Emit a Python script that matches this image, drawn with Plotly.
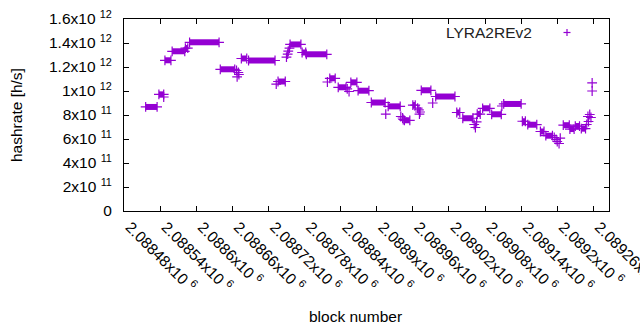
import plotly.graph_objects as go

# ---- data: runs of blocks with (nearly) constant hashrate ----
run_start = [2088516, 2088538, 2088548, 2088560, 2088582, 2088589, 2088640, 2088675,
             2088687, 2088736, 2088756, 2088776, 2088783, 2088822, 2088836, 2088857,
             2088869, 2088891, 2088919, 2088946, 2088960, 2088974, 2088998, 2089033,
             2089043, 2089067, 2089076, 2089091, 2089111, 2089142, 2089151, 2089172,
             2089181, 2089210, 2089221, 2089230, 2089240]
run_end = [2088535, 2088546, 2088558, 2088581, 2088586, 2088638, 2088664, 2088684,
           2088731, 2088748, 2088774, 2088782, 2088817, 2088831, 2088849, 2088867,
           2088887, 2088914, 2088939, 2088955, 2088964, 2088990, 2089030, 2089038,
           2089060, 2089072, 2089088, 2089107, 2089140, 2089147, 2089166, 2089178,
           2089192, 2089220, 2089228, 2089237, 2089247]
run_rate = [8.67e11, 9.72e11, 1.256e12, 1.331e12, 1.358e12, 1.406e12, 1.181e12, 1.271e12,
            1.254e12, 1.079e12, 1.388e12, 1.321e12, 1.306e12, 1.106e12, 1.031e12, 1.072e12,
            1.0025e12, 9.04e11, 8.72e11, 7.56e11, 8.83e11, 1.006e12, 9.54e11, 8.21e11,
            7.73e11, 8.08e11, 8.56e11, 8.06e11, 8.92e11, 7.48e11, 7.19e11, 6.625e11,
            6.275e11, 7.15e11, 6.83e11, 7.08e11, 6.86e11]

# ---- data: isolated blocks ----
pt_block = [2088546, 2088667, 2088670, 2088671, 2088668, 2088733, 2088750, 2088752,
            2088753, 2088755, 2088818, 2088851, 2088854, 2088915, 2088940, 2088943,
            2088944, 2088968, 2088970, 2088972, 2088971, 2088993, 2089062, 2089064,
            2089066, 2089108, 2089195, 2089198, 2089200, 2089203, 2089205, 2089249,
            2089252, 2089251, 2089254, 2089256, 2089258, 2089258]
pt_rate = [9.5e11, 1.171e12, 1.154e12, 1.1375e12, 1.117e12, 1.058e12, 1.283e12, 1.308e12,
           1.333e12, 1.358e12, 1.075e12, 1.017e12, 9.96e11, 8.08e11, 7.875e11, 7.75e11,
           7.625e11, 8.58e11, 8.42e11, 8.25e11, 8.08e11, 9.0e11, 7.21e11, 6.96e11,
           7.42e11, 8.75e11, 6.125e11, 5.96e11, 5.79e11, 5.625e11, 6.08e11, 7.21e11,
           7.46e11, 7.875e11, 8.04e11, 7.79e11, 1.067e12, 1.0e12]

# ---- axis ticks ----
x_ticks = [2088480 + 60 * i for i in range(14)]
x_tick_text = ["2.08848", "2.08854", "2.0886", "2.08866", "2.08872", "2.08878", "2.08884",
               "2.0889", "2.08896", "2.08902", "2.08908", "2.08914", "2.0892", "2.08926"]
x_tick_exp = "6"
y_ticks = [0, 2e11, 4e11, 6e11, 8e11, 1e12, 1.2e12, 1.4e12, 1.6e12]
y_tick_mant = ["0", "2", "4", "6", "8", "1", "1.2", "1.4", "1.6"]
y_tick_exp = ["", "11", "11", "11", "11", "12", "12", "12", "12"]
x_range = [2088480, 2089286]
y_range = [0, 1.6e12]

COLOR = "#9400d3"
FONT = "Liberation Sans"
FS = 15.5
NBSP = "\u00a0"

def sci(m, e):
    return m if not e else f"{m}x10{NBSP}<sup>{e}</sup>"

fig = go.Figure()

# runs drawn as stacked '+' (thick bar) with '+' at both ends
seg_x, seg_y = [], []
for s, e, v in zip(run_start, run_end, run_rate):
    seg_x += [s, e, None]
    seg_y += [v, v, None]
fig.add_trace(go.Scatter(x=seg_x, y=seg_y, mode="lines+markers",
                         line=dict(color=COLOR, width=6),
                         marker=dict(symbol="cross-thin", size=7,
                                     line=dict(color=COLOR, width=1.2)),
                         showlegend=False, hoverinfo="skip"))
fig.add_trace(go.Scatter(x=pt_block, y=pt_rate, mode="markers",
                         marker=dict(symbol="cross-thin", size=7,
                                     line=dict(color=COLOR, width=1.2)),
                         showlegend=False))

axis_common = dict(showline=True, linecolor="black", linewidth=1, mirror="ticks",
                   ticks="inside", ticklen=5, tickcolor="black", tickwidth=1,
                   showgrid=False, zeroline=False,
                   tickfont=dict(family=FONT, size=FS, color="black"))

fig.update_xaxes(range=x_range, tickmode="array", tickvals=x_ticks,
                 ticktext=[sci(t, x_tick_exp) for t in x_tick_text],
                 tickangle=45, ticklabelshift=6, ticklabeloverflow="allow",
                 **axis_common)
fig.update_yaxes(range=y_range, tickmode="array", tickvals=y_ticks,
                 ticktext=[sci(m, e) for m, e in zip(y_tick_mant, y_tick_exp)],
                 ticklabelstandoff=8, **axis_common)

W, H = 640, 330
L, R, T, B = 124, 31, 19, 119
pw, ph = W - L - R, H - T - B

def px(xp):
    return (xp - L) / pw

def py(yp):
    return (H - B - yp) / ph

fig.update_layout(
    width=W, height=H, margin=dict(l=L, r=R, t=T, b=B, autoexpand=False),
    paper_bgcolor="white", plot_bgcolor="white", showlegend=False,
    font=dict(family=FONT, size=FS, color="black"),
    annotations=[
        dict(text="hashrate [h/s]", x=px(16.5), y=py(115.5), xref="paper", yref="paper",
             textangle=-90, showarrow=False, xanchor="center", yanchor="middle",
             font=dict(family=FONT, size=FS, color="black")),
        dict(text="block number", x=px(355.5), y=py(316), xref="paper", yref="paper",
             showarrow=False, xanchor="center", yanchor="middle",
             font=dict(family=FONT, size=FS, color="black")),
        dict(text="LYRA2REv2", x=px(534), y=py(32), xref="paper", yref="paper",
             showarrow=False, xanchor="right", yanchor="middle",
             font=dict(family=FONT, size=FS, color="#222222")),
    ],
    shapes=[
        dict(type="line", xref="paper", yref="paper", xsizemode="pixel", ysizemode="pixel",
             xanchor=px(567), yanchor=py(32.5), x0=-3.5, x1=3.5, y0=0, y1=0,
             line=dict(color=COLOR, width=1.2)),
        dict(type="line", xref="paper", yref="paper", xsizemode="pixel", ysizemode="pixel",
             xanchor=px(567), yanchor=py(32.5), x0=0, x1=0, y0=-3.5, y1=3.5,
             line=dict(color=COLOR, width=1.2)),
    ],
)

fig.write_html("out.html",
               config={"displayModeBar": False, "staticPlot": True},
               post_script="document.body.style.margin='0px';"
                           "document.body.style.overflow='hidden';")
